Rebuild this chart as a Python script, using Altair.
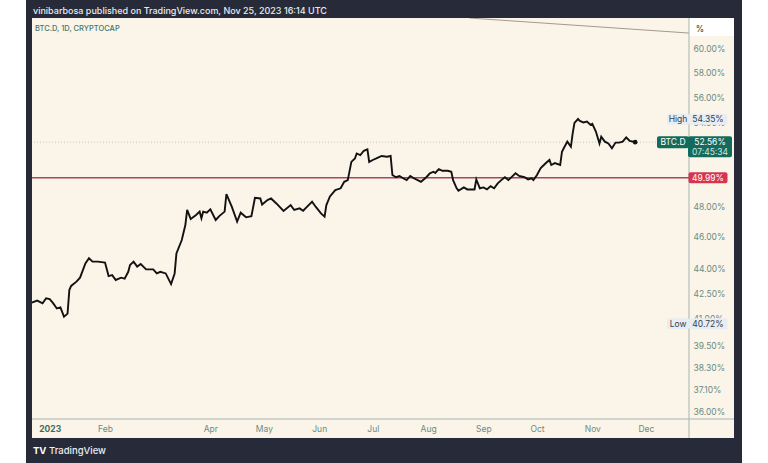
import altair as alt
import pandas as pd

# ---------------- data ----------------
dates = [
    "2022-12-22", "2022-12-25", "2022-12-28", "2022-12-30", "2023-01-01", "2023-01-03",
    "2023-01-05", "2023-01-07", "2023-01-09", "2023-01-11", "2023-01-12", "2023-01-13",
    "2023-01-16", "2023-01-18", "2023-01-21", "2023-01-23", "2023-01-25", "2023-01-28",
    "2023-02-01", "2023-02-03", "2023-02-05", "2023-02-07", "2023-02-10", "2023-02-12",
    "2023-02-14", "2023-02-15", "2023-02-17", "2023-02-19", "2023-02-21", "2023-02-24",
    "2023-02-28", "2023-03-02", "2023-03-04", "2023-03-07", "2023-03-10", "2023-03-12",
    "2023-03-13", "2023-03-16", "2023-03-18", "2023-03-19", "2023-03-21", "2023-03-24",
    "2023-03-26", "2023-03-27", "2023-03-28", "2023-03-30", "2023-04-01", "2023-04-04",
    "2023-04-06", "2023-04-09", "2023-04-10", "2023-04-13", "2023-04-16", "2023-04-18",
    "2023-04-21", "2023-04-24", "2023-04-26", "2023-04-29", "2023-04-30", "2023-05-03",
    "2023-05-05", "2023-05-08", "2023-05-12", "2023-05-16", "2023-05-18", "2023-05-21",
    "2023-05-23", "2023-05-28", "2023-05-30", "2023-06-02", "2023-06-04", "2023-06-05",
    "2023-06-07", "2023-06-10", "2023-06-13", "2023-06-15", "2023-06-17", "2023-06-19",
    "2023-06-21", "2023-06-22", "2023-06-24", "2023-06-26", "2023-06-28", "2023-06-29",
    "2023-07-01", "2023-07-03", "2023-07-06", "2023-07-09", "2023-07-11", "2023-07-12",
    "2023-07-14", "2023-07-16", "2023-07-18", "2023-07-20", "2023-07-22", "2023-07-24",
    "2023-07-27", "2023-07-28", "2023-07-31", "2023-08-02", "2023-08-04", "2023-08-05",
    "2023-08-07", "2023-08-09", "2023-08-12", "2023-08-14", "2023-08-15", "2023-08-17",
    "2023-08-18", "2023-08-21", "2023-08-23", "2023-08-25", "2023-08-27", "2023-08-28",
    "2023-08-30", "2023-09-01", "2023-09-03", "2023-09-05", "2023-09-07", "2023-09-09",
    "2023-09-11", "2023-09-13", "2023-09-15", "2023-09-17", "2023-09-19", "2023-09-21",
    "2023-09-24", "2023-09-26", "2023-09-28", "2023-09-29", "2023-10-01", "2023-10-03",
    "2023-10-04", "2023-10-06", "2023-10-08", "2023-10-09", "2023-10-11", "2023-10-14",
    "2023-10-15", "2023-10-16", "2023-10-18", "2023-10-20", "2023-10-21", "2023-10-22",
    "2023-10-24", "2023-10-25", "2023-10-27", "2023-10-29", "2023-10-31", "2023-11-01",
    "2023-11-03", "2023-11-05", "2023-11-06", "2023-11-08", "2023-11-10", "2023-11-12",
    "2023-11-14", "2023-11-16", "2023-11-18", "2023-11-20", "2023-11-22", "2023-11-25",
]
btc_d = [
    41.95, 42.06, 41.90, 42.20, 42.15, 41.90,
    41.60, 41.66, 41.12, 41.30, 42.69, 42.94,
    43.20, 43.44, 44.32, 44.64, 44.43, 44.43,
    44.37, 43.54, 43.60, 43.30, 43.44, 43.38,
    43.80, 44.22, 44.43, 44.12, 44.28, 43.95,
    43.95, 43.70, 43.80, 43.70, 43.05, 43.70,
    44.95, 45.80, 46.78, 47.78, 47.18, 47.44,
    47.67, 47.22, 47.67, 47.60, 47.82, 47.11,
    47.37, 47.67, 48.86, 48.00, 47.00, 47.60,
    47.29, 47.37, 48.60, 48.56, 48.15, 48.45,
    48.56, 48.22, 47.71, 48.11, 47.78, 47.89,
    47.73, 48.34, 48.00, 47.55, 47.33, 48.11,
    48.70, 49.14, 49.26, 49.71, 49.83, 51.12,
    51.37, 51.73, 51.62, 51.93, 52.03, 51.12,
    51.26, 51.37, 51.55, 51.50, 51.55, 50.19,
    50.03, 50.12, 49.96, 49.83, 50.12, 49.96,
    49.78, 49.71, 50.03, 50.31, 50.42, 50.33,
    50.61, 50.49, 50.49, 50.42, 49.83, 49.26,
    49.09, 49.32, 49.18, 49.18, 49.18, 49.88,
    49.26, 49.32, 49.18, 49.41, 49.26, 49.60,
    49.83, 50.03, 49.83, 50.07, 50.31, 50.12,
    50.03, 49.88, 49.96, 49.83, 50.19, 50.67,
    50.79, 51.04, 51.26, 50.90, 51.04, 50.90,
    51.86, 52.11, 52.60, 52.22, 53.22, 54.00,
    54.30, 54.15, 54.04, 54.10, 53.85, 53.93,
    53.35, 52.47, 52.97, 52.60, 52.47, 52.11,
    52.53, 52.53, 52.60, 52.91, 52.66, 52.56,
]

# 50.00% and 52.00% sit fully under the price labels in the reference
y_tick_values = [36.0, 37.1, 38.3, 39.5, 41.0, 42.5, 44.0, 46.0, 48.0, 54.0, 56.0, 58.0, 60.0]
x_tick_months = [1, 2, 4, 5, 6, 7, 8, 9, 10, 11, 12]

level_value = 49.99
last_value = 52.56
last_time = "07:45:34"
high_value = 54.35
low_value = 40.72
trend_dates = ["2023-08-24", "2023-12-25"]
trend_values = [62.59, 61.28]

header_text = "vinibarbosa published on TradingView.com, Nov 25, 2023 16:14 UTC"
symbol_text = "BTC.D, 1D, CRYPTOCAP"

# ---------------- styling ----------------
W, H = 657, 401
CREAM = "#faf4e9"
DARK = "#272b39"
AXIS_TXT = "#6b8c83"
SEP = "#a7b5b0"
FONT = "Inter"

df = pd.DataFrame({"date": dates, "v": btc_d})
one = pd.DataFrame({"a": [0]})

x_scale = alt.Scale(
    type="utc",
    domain=[alt.DateTime(year=2022, month=12, date=22, hours=2, utc=True),
            alt.DateTime(year=2023, month=12, date=25, hours=4, utc=True)],
)
y_scale = alt.Scale(type="log", domain=[35.61, 62.59], nice=False, zero=False)

x_axis = alt.Axis(
    values=[alt.DateTime(year=2023, month=m, date=1, utc=True) for m in x_tick_months],
    labelExpr="utcFormat(datum.value, '%m') == '01' ? '2023' : utcFormat(datum.value, '%b')",
    labelFontWeight={"condition": {"test": "utcFormat(datum.value, '%m') == '01'", "value": "bold"}, "value": "normal"},
    labelColor={"condition": {"test": "utcFormat(datum.value, '%m') == '01'", "value": "#3c6b61"}, "value": AXIS_TXT},
    title=None, ticks=False, domain=False, grid=False, labelPadding=5, labelFontSize=8.5,
    labelFont=FONT,
)
y_axis = alt.Axis(
    orient="right", values=y_tick_values,
    labelExpr="format(datum.value, '.2f') + '%'",
    title=None, ticks=False, domain=False, grid=False, labelPadding=4, labelFontSize=8.5,
    labelColor=AXIS_TXT, labelAlign="left", labelFont=FONT,
)


def rect(x1, x2, y1, y2, color):
    return alt.Chart(one).mark_rect(color=color, clip=False).encode(
        x=alt.value(x1), x2=alt.value(x2), y=alt.value(y1), y2=alt.value(y2)
    )


def text(x, y, s, color, size=9, weight="normal", align="left"):
    return alt.Chart(one).mark_text(
        text=s, color=color, fontSize=size, fontWeight=weight, align=align,
        baseline="middle", font=FONT, clip=False
    ).encode(x=alt.value(x), y=alt.value(y))


# frame around the cream panel
frame = [
    rect(-32, -6, -18, 445, "white"),
    rect(710, 736, -18, 445, "white"),
    rect(-6, 710, -18, 0, DARK),
    rect(-6, 710, 420, 445, DARK),
    rect(-6, 0, -18, 445, DARK),
    rect(702, 710, -18, 445, DARK),
    rect(657, 702, 0, 18, "white"),
    alt.Chart(one).mark_rule(color=SEP, strokeWidth=1, clip=False).encode(
        x=alt.value(657), y=alt.value(0), y2=alt.value(420)),
    alt.Chart(one).mark_rule(color=SEP, strokeWidth=1, clip=False).encode(
        x=alt.value(0), x2=alt.value(702), y=alt.value(401)),
]

base = alt.Chart(df).encode(
    x=alt.X("date:T", scale=x_scale, axis=x_axis),
    y=alt.Y("v:Q", scale=y_scale, axis=y_axis),
)

trend = alt.Chart(pd.DataFrame({"date": trend_dates, "v": trend_values})).mark_line(
    color="#a59a8b", strokeWidth=1, clip=True
).encode(x="date:T", y="v:Q")

last_rule = alt.Chart(pd.DataFrame({"v": [last_value]})).mark_rule(
    color="#c9c5bb", strokeDash=[1, 2], strokeWidth=1
).encode(y="v:Q")

level_rule = alt.Chart(pd.DataFrame({"v": [level_value]})).mark_rule(
    color="#a8455f", strokeWidth=1.4
).encode(y="v:Q")

line = base.mark_line(color="#121212", strokeWidth=1.9, clip=True)
dot = alt.Chart(df.tail(1)).mark_point(filled=True, color="#121212", size=22, opacity=1).encode(
    x="date:T", y="v:Q")


def box(value, xc, w, h, color, yoff=0):
    return alt.Chart(pd.DataFrame({"v": [value]})).mark_tick(
        orient="horizontal", size=w, thickness=h, color=color, opacity=1,
        yOffset=yoff, cornerRadius=2, clip=False
    ).encode(y="v:Q", x=alt.value(xc))


def vtext(value, x, s, color, yoff=0, size=8.5, weight="normal", align="center"):
    return alt.Chart(pd.DataFrame({"v": [value]})).mark_text(
        text=s, color=color, fontSize=size, fontWeight=weight, align=align,
        baseline="middle", yOffset=yoff, font=FONT, clip=False
    ).encode(y="v:Q", x=alt.value(x))


LABEL_BG = "#e7edf2"
LABEL_TXT = "#35404c"
TEAL = "#136b5d"
RED = "#d6354f"

annotations = [
    # level 49.99
    box(level_value, 676, 39, 11, RED),
    vtext(level_value, 676, f"{level_value:.2f}%", "white"),
    # last price
    box(last_value, 641, 32, 12, TEAL),
    vtext(last_value, 641, "BTC.D", "white"),
    box(last_value, 678, 44, 21, TEAL, yoff=4.5),
    vtext(last_value, 678, f"{last_value:.2f}%", "white"),
    vtext(last_value, 678, last_time, "#cfe6e0", yoff=9.5),
    # high
    box(high_value, 646, 22, 11, LABEL_BG, yoff=1),
    vtext(high_value, 646, "High", LABEL_TXT, yoff=1),
    box(high_value, 676, 39, 11, LABEL_BG, yoff=1),
    vtext(high_value, 676, f"{high_value:.2f}%", LABEL_TXT, yoff=1),
    # low
    box(low_value, 646, 22, 11, LABEL_BG),
    vtext(low_value, 646, "Low", LABEL_TXT),
    box(low_value, 676, 39, 11, LABEL_BG),
    vtext(low_value, 676, f"{low_value:.2f}%", LABEL_TXT),
]

texts = [
    text(1, -7, header_text, "#e9eaee", size=9, weight=500),
    text(3, 11, symbol_text, "#46766c", size=7.5, weight=500),
    text(668, 11, "%", "#333", size=8.5, align="center"),
    text(1, 433, "TV", "white", size=9.5, weight="bold"),
    text(17, 433, "TradingView", "#eeeeee", size=9.5, weight=500),
]

chart = alt.layer(
    base.mark_line(opacity=0),
    *frame, trend, last_rule, level_rule, line, dot, *annotations, *texts
).properties(
    width=W, height=H,
    padding={"left": 32, "top": 18, "right": 79, "bottom": 44},
    autosize=alt.AutoSizeParams(type="none"),
    background=CREAM,
).configure_view(stroke=None)

chart.save("out.html", embed_options={"renderer": "svg", "actions": False})
